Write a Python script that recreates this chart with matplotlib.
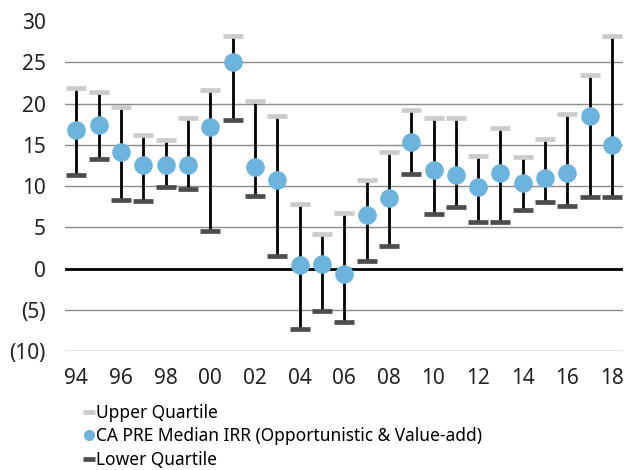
import numpy as np
import matplotlib.pyplot as plt
from matplotlib.lines import Line2D

plt.rcParams['font.family'] = ['Noto Sans', 'DejaVu Sans']

# Vintage years and IRR quartiles (%)
years = ['94', '95', '96', '97', '98', '99', '00', '01', '02', '03', '04', '05', '06',
         '07', '08', '09', '10', '11', '12', '13', '14', '15', '16', '17', '18']
upper = [21.9, 21.4, 19.6, 16.2, 15.6, 18.2, 21.6, 28.2, 20.3, 18.5, 7.8, 4.2, 6.8,
         10.75, 14.1, 19.2, 18.2, 18.3, 13.7, 17.0, 13.5, 15.7, 18.8, 23.5, 28.2]
median = [16.8, 17.4, 14.1, 12.5, 12.5, 12.6, 17.2, 25.0, 12.3, 10.7, 0.45, 0.5, -0.7,
          6.5, 8.6, 15.4, 11.9, 11.4, 9.9, 11.6, 10.4, 11.0, 11.6, 18.5, 15.0]
lower = [11.3, 13.3, 8.3, 8.2, 9.9, 9.6, 4.6, 18.0, 8.8, 1.5, -7.3, -5.1, -6.5,
         0.9, 2.75, 11.5, 6.6, 7.5, 5.6, 5.7, 7.1, 8.05, 7.6, 8.65, 8.65]

yticks = [30, 25, 20, 15, 10, 5, 0, -5, -10]
ytick_labels = ['30', '25', '20', '15', '10', '5', '0', '(5)', '(10)']

c_upper = '#cccccc'
c_median = '#6cb4de'
c_lower = '#4d4d4d'

fig = plt.figure(figsize=(6.27, 4.70), dpi=100)
ax = fig.add_axes([0.104, 0.253, 0.89, 0.702])

x = np.arange(len(years))

# gridlines
for v in yticks:
    if v == 30:
        continue
    if v == 0:
        ax.axhline(0, color='black', lw=2, zorder=1)
    else:
        ax.axhline(v, color='#8c8c8c', lw=1, zorder=0)

ax.vlines(x, lower, upper, color='black', lw=2, zorder=2)
ax.plot(x, upper, ls='none', marker='_', ms=14.5, mew=3.4, color=c_upper, zorder=3)
ax.plot(x, lower, ls='none', marker='_', ms=14.5, mew=3.4, color=c_lower, zorder=3)
ax.plot(x, median, ls='none', marker='o', ms=13.4, color=c_median, mew=0, zorder=4)

ax.set_xlim(-0.5, len(years) - 0.5)
ax.set_ylim(-10, 30)
ax.set_yticks(yticks)
ax.set_yticklabels(ytick_labels, fontsize=15, color='#222222')
ax.set_xticks(x[::2])
ax.set_xticklabels(years[::2], fontsize=15, color='#222222')
ax.tick_params(axis='x', length=0, pad=12)
ax.tick_params(axis='y', length=0, pad=14)
for s in ax.spines.values():
    s.set_visible(False)

handles = [
    Line2D([], [], ls='none', marker='_', ms=9, mew=3.4, color=c_upper),
    Line2D([], [], ls='none', marker='o', ms=8, mew=0, color=c_median),
    Line2D([], [], ls='none', marker='_', ms=9, mew=3.4, color=c_lower),
]
labels = ['Upper Quartile', 'CA PRE Median IRR (Opportunistic & Value-add)', 'Lower Quartile']
fig.legend(handles, labels, loc='upper left', bbox_to_anchor=(0.133, 0.141),
           frameon=False, fontsize=12.5, handlelength=0.6, handletextpad=0.1,
           labelspacing=0.33, borderpad=0, borderaxespad=0)

fig.savefig('out.png', dpi=100)
